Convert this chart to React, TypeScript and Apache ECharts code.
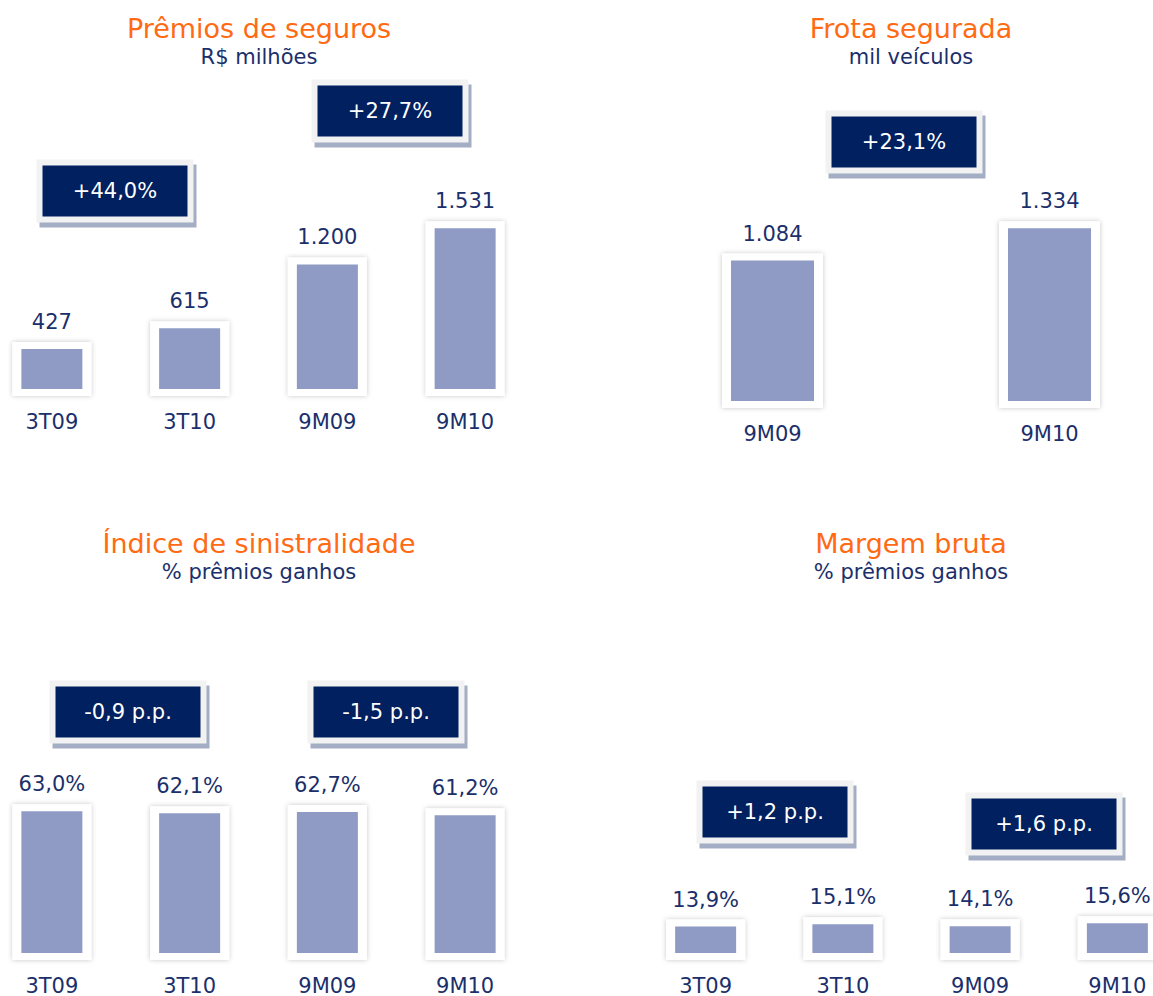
import React, { useEffect, useRef } from "react";
import * as echarts from "echarts";

// ---- data ----
const premiosCats = ["3T09", "3T10", "9M09", "9M10"];
const premiosValues = [427, 615, 1200, 1531];
const frotaCats = ["9M09", "9M10"];
const frotaValues = [1084, 1334];
const sinistroCats = ["3T09", "3T10", "9M09", "9M10"];
const sinistroValues = [63.0, 62.1, 62.7, 61.2];
const margemCats = ["3T09", "3T10", "9M09", "9M10"];
const margemValues = [13.9, 15.1, 14.1, 15.6];

const panelTitles = ["Prêmios de seguros", "Frota segurada", "Índice de sinistralidade", "Margem bruta"];
const panelSubtitles = ["R$ milhões", "mil veículos", "% prêmios ganhos", "% prêmios ganhos"];
const badgeTexts = ["+44,0%", "+27,7%", "+23,1%", "-0,9 p.p.", "-1,5 p.p.", "+1,2 p.p.", "+1,6 p.p."];

// ---- layout (positions / styles) ----
const OX = 60; // chart canvas is wider than the page, shifted left by OX
const badgeCenters: [number, number][] = [
  [115, 191],
  [390, 111],
  [904, 142],
  [128, 712],
  [386, 712],
  [775, 812],
  [1044, 824],
];
const titleCenters: [number, number][] = [
  [259, 28],
  [911, 28],
  [259, 543],
  [911, 543],
];

const ORANGE = "#FF6A13";
const NAVY = "#1B2F6B";
const BAR = "#8F9BC4";
const BADGE = "#002060";
const FONT = '"DejaVu Sans", Verdana, sans-serif';

const fmtThousands = (v: number) => String(v).replace(/\B(?=(\d{3})+(?!\d))/g, ".");
const fmtPct = (v: number) => v.toFixed(1).replace(".", ",") + "%";

function makeSeries(idx: number, values: number[], barWidth: number, fmt: (v: number) => string) {
  return {
    type: "custom",
    xAxisIndex: idx,
    yAxisIndex: idx,
    clip: false,
    data: values.map((v, i) => [i, v]),
    encode: { x: 0, y: 1 },
    renderItem: (params: any, api: any) => {
      const ci = api.value(0);
      const v = api.value(1);
      const top = api.coord([ci, v]);
      const base = (params.coordSys.y + params.coordSys.height) as number;
      const h = base - top[1];
      return {
        type: "group",
        children: [
          {
            type: "rect",
            shape: { x: top[0] - barWidth / 2 - 9, y: top[1] - 7, width: barWidth + 18, height: h + 14 },
            style: { fill: "#ffffff", shadowBlur: 5, shadowColor: "rgba(0,0,0,0.22)" },
          },
          {
            type: "rect",
            shape: { x: top[0] - barWidth / 2, y: top[1], width: barWidth, height: h },
            style: { fill: BAR },
          },
          {
            type: "text",
            x: top[0],
            y: top[1] - 27,
            style: {
              text: fmt(v),
              fill: NAVY,
              fontSize: 21,
              fontFamily: FONT,
              align: "center",
              verticalAlign: "middle",
            },
          },
        ],
      };
    },
  };
}

function makeAxes(idx: number, cats: string[], min: number, max: number) {
  return {
    x: {
      type: "category",
      gridIndex: idx,
      data: cats,
      axisLine: { show: false },
      axisTick: { show: false },
      splitLine: { show: false },
      axisLabel: { color: NAVY, fontSize: 21, fontFamily: FONT, margin: 22 },
    },
    y: {
      type: "value",
      gridIndex: idx,
      min,
      max,
      show: false,
      splitLine: { show: false },
    },
  };
}

export default function App() {
  const ref = useRef<HTMLDivElement>(null);

  useEffect(() => {
    document.body.style.margin = "0";
    const chart = echarts.init(ref.current!, null, { renderer: "svg" });

    const a0 = makeAxes(0, premiosCats, 60, 2000);
    const a1 = makeAxes(1, frotaCats, 0, 2000);
    const a2 = makeAxes(2, sinistroCats, 0, 100);
    const a3 = makeAxes(3, margemCats, 0, 100);

    const graphics: any[] = [];
    titleCenters.forEach((c, i) => {
      graphics.push({
        type: "text",
        x: c[0] + OX,
        y: c[1],
        style: { text: panelTitles[i], fill: ORANGE, fontSize: 27, fontFamily: FONT, align: "center", verticalAlign: "middle" },
      });
      graphics.push({
        type: "text",
        x: c[0] + OX,
        y: c[1] + 29,
        style: { text: panelSubtitles[i], fill: NAVY, fontSize: 21, fontFamily: FONT, align: "center", verticalAlign: "middle" },
      });
    });
    const bw = 145;
    const bh = 51;
    badgeCenters.forEach((c, i) => {
      const x = c[0] + OX - bw / 2;
      const y = c[1] - bh / 2;
      graphics.push({
        type: "rect",
        shape: { x: x - 3, y: y - 1, width: bw + 12, height: bh + 12 },
        style: { fill: "#A3AEC5" },
      });
      graphics.push({
        type: "rect",
        shape: { x: x - 6, y: y - 6, width: bw + 12, height: bh + 12 },
        style: { fill: "#F2F2F2" },
      });
      graphics.push({
        type: "rect",
        shape: { x, y, width: bw, height: bh },
        style: { fill: BADGE },
      });
      graphics.push({
        type: "text",
        x: c[0] + OX,
        y: c[1],
        style: { text: badgeTexts[i], fill: "#ffffff", fontSize: 21, fontFamily: FONT, align: "center", verticalAlign: "middle" },
      });
    });

    chart.setOption({
      animation: false,
      backgroundColor: "#ffffff",
      grid: [
        { left: -17 + OX, width: 551, top: 177, height: 212 },
        { left: 634 + OX, width: 554, top: 142, height: 259 },
        { left: -17 + OX, width: 551, top: 728, height: 225 },
        { left: 637 + OX, width: 549, top: 763, height: 190 },
      ],
      xAxis: [a0.x, a1.x, a2.x, a3.x],
      yAxis: [a0.y, a1.y, a2.y, a3.y],
      series: [
        makeSeries(0, premiosValues, 61, fmtThousands),
        makeSeries(1, frotaValues, 83, fmtThousands),
        makeSeries(2, sinistroValues, 61, fmtPct),
        makeSeries(3, margemValues, 61, fmtPct),
      ],
      graphic: graphics,
    });

    return () => chart.dispose();
  }, []);

  return (
    <div style={{ position: "fixed", left: 0, top: 0, width: 1153, height: 996, overflow: "hidden", background: "#fff" }}>
      <div ref={ref} style={{ position: "absolute", left: -OX, top: 0, width: 1153 + 2 * OX, height: 996 }} />
    </div>
  );
}
